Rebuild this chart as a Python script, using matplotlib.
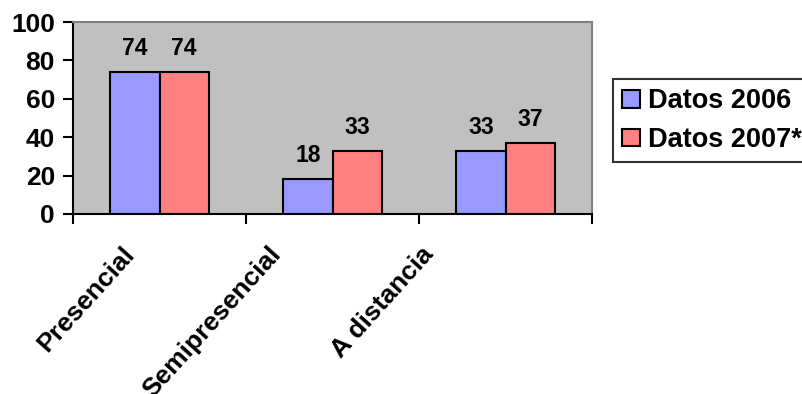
import numpy as np
import matplotlib
matplotlib.use("Agg")
import matplotlib.pyplot as plt

plt.rcParams['font.family'] = ['Liberation Sans', 'DejaVu Sans']
plt.rcParams['font.weight'] = 'bold'

# data
categories = ['Presencial', 'Semipresencial', 'A distancia']
datos_2006 = [74, 18, 33]
datos_2007 = [74, 33, 37]
series_labels = ['Datos 2006', 'Datos 2007*']
yticks = [0, 20, 40, 60, 80, 100]

# per-label shift of the rotated category names (pixels)
label_shift = [-29, -56, -76]

fig = plt.figure(figsize=(8.03, 3.94), dpi=100)
ax = fig.add_axes([73 / 803, 1 - 214 / 394, (592 - 73) / 803, (214 - 22) / 394])
ax.set_facecolor('#C0C0C0')

x = np.arange(len(categories))
w = 0.285
b1 = ax.bar(x - w / 2, datos_2006, w, color='#9999FF', edgecolor='black',
            linewidth=1.5, label=series_labels[0], zorder=3)
b2 = ax.bar(x + w / 2, datos_2007, w, color='#FF8080', edgecolor='black',
            linewidth=1.5, label=series_labels[1], zorder=3)

# value labels above bars
for bars, vals in [(b1, datos_2006), (b2, datos_2007)]:
    for rect, v in zip(bars, vals):
        ax.annotate(str(v), (rect.get_x() + rect.get_width() / 2, v),
                    xytext=(0, 12), textcoords='offset pixels',
                    ha='center', va='bottom', fontsize=16.5, fontweight='bold')

ax.set_xlim(-0.5, len(categories) - 0.5)
ax.set_ylim(0, 100)
ax.set_yticks(yticks)
ax.tick_params(axis='y', direction='out', length=7, width=1.5, labelsize=19, pad=6)

# tick marks between categories, names drawn separately
ax.set_xticks(np.arange(len(categories) + 1) - 0.5)
ax.set_xticklabels([])
ax.tick_params(axis='x', direction='out', length=7, width=1.5)
for i, name in enumerate(categories):
    ax.annotate(name, (x[i], 0), xycoords=('data', 'axes fraction'),
                xytext=(label_shift[i], -36), textcoords='offset pixels',
                rotation=48, rotation_mode='anchor', ha='right', va='center',
                fontsize=19, fontweight='bold')

for side in ['left', 'bottom']:
    ax.spines[side].set_color('black')
    ax.spines[side].set_linewidth(1.5)
for side in ['top', 'right']:
    ax.spines[side].set_color('#808080')
    ax.spines[side].set_linewidth(1.5)

leg = ax.legend(loc='upper left', bbox_to_anchor=(613 / 803, 1 - 79 / 394),
                bbox_transform=fig.transFigure, borderaxespad=0,
                prop={'size': 19.5, 'weight': 'bold'}, frameon=True, fancybox=False,
                edgecolor='black', handlelength=0.65, handleheight=0.6,
                handletextpad=0.3, labelspacing=0.45, borderpad=0.35)
leg.get_frame().set_linewidth(1.5)

fig.savefig('out.png', dpi=100)
